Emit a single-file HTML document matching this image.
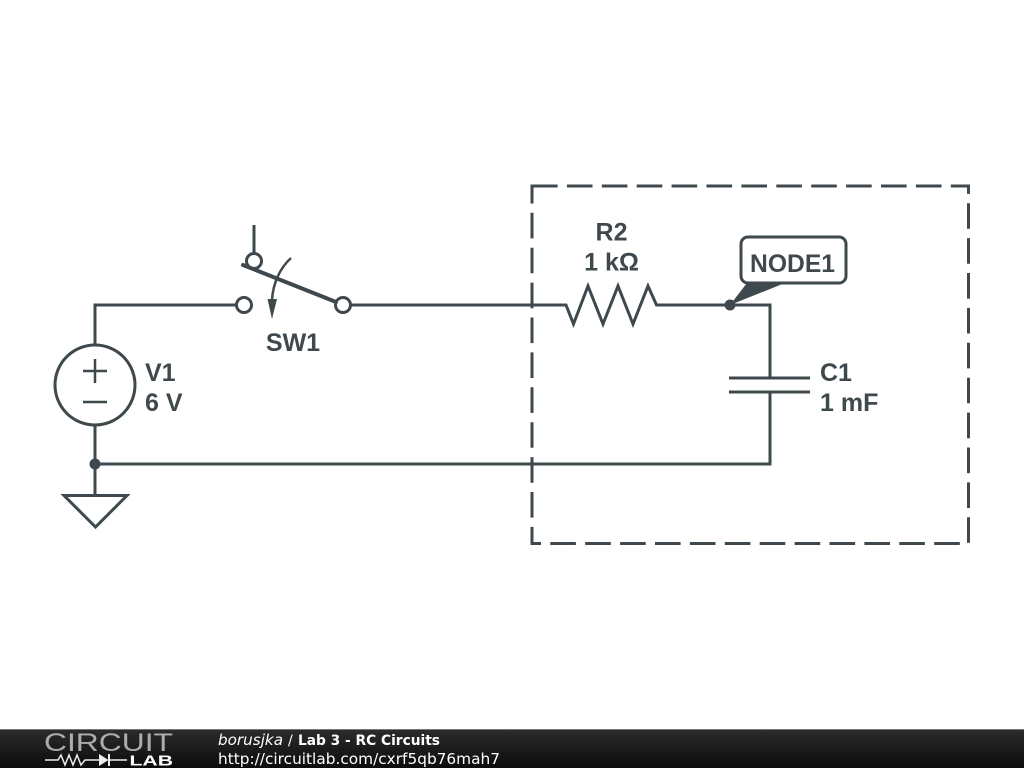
<!DOCTYPE html>
<html><head><meta charset="utf-8"><style>
html,body{margin:0;padding:0;background:#fff;width:1024px;height:768px;overflow:hidden}
svg{display:block}
</style></head><body>
<svg width="1024" height="768" viewBox="0 0 1024 768" xmlns="http://www.w3.org/2000/svg">
<defs><linearGradient id="g" x1="0" y1="0" x2="0" y2="1"><stop offset="0" stop-color="#2c2c2c"/><stop offset="1" stop-color="#0c0c0c"/></linearGradient></defs>
<rect width="1024" height="768" fill="#fff"/>
<g fill="none" stroke="#3f484d" stroke-width="3" stroke-linejoin="miter">
<rect x="532" y="186" width="436.500" height="357.500" stroke-dasharray="25.600 9.300"/>
<path d="M95 345V305H236M351 305H566L573.500 324L588 286L603 324L618 286L633 324L648 286L656.500 305H770V378M770 392V464H95M95 425V495"/>
<path d="M729 378H810M729 392H810" />
<circle cx="95" cy="385" r="40"/>
<path d="M83 371H107M95 359V383M83 402H107" stroke-width="2.500"/>
<path d="M64 495.500H127L95.500 527Z"/>
<path d="M254 225V253"/>
<circle cx="254" cy="261" r="7.500"/>
<circle cx="244" cy="305" r="7.500"/>
<circle cx="343" cy="305" r="7.500"/>
<path d="M243 265L336 302" stroke-width="4" stroke-linecap="round"/>
<path d="M291 258C280 268 273 283 272 300" stroke-width="2.500"/>
<rect x="741" y="237" width="105" height="46" rx="7" fill="#fff"/>
</g>
<g fill="#3f484d">
<path d="M267.500 299L277 299L272 319Z"/>
<circle cx="95" cy="464" r="5.500"/>
<circle cx="730" cy="305" r="5.500"/>
<path d="M730 305L747 283H785Z"/>
</g>
<g fill="#3f484d" font-family="'Liberation Sans',sans-serif" font-weight="bold" font-size="25">
<text x="293" y="351" text-anchor="middle">SW1</text>
<text x="145" y="381">V1</text>
<text x="145" y="411">6 V</text>
<text x="611.500" y="240.500" text-anchor="middle">R2</text>
<text x="611.500" y="270.500" text-anchor="middle">1 kΩ</text>
<text x="750" y="272" textLength="85" lengthAdjust="spacingAndGlyphs">NODE1</text>
<text x="820" y="381">C1</text>
<text x="820" y="411">1 mF</text>
</g>
<rect y="729" width="1024" height="39" fill="url(#g)"/>
<rect y="729" width="1024" height="1" fill="#777"/>
<text x="44" y="751" fill="#e8e8e8" font-family="'Liberation Sans',sans-serif" font-size="25" textLength="129" lengthAdjust="spacingAndGlyphs" opacity=".7">CIRCUIT</text>
<g fill="none" stroke="#eee" stroke-width="1.500">
<path d="M45 760H58L61 755L65 765L69 755L73 765L77 755L81 765L85 760H99M109 760H127"/>
<path d="M109 754V766" stroke-width="2"/>
</g>
<path d="M99 754L108.500 760L99 766Z" fill="#eee"/>
<text x="129.500" y="765.500" fill="#fff" font-family="'Liberation Sans',sans-serif" font-weight="bold" font-size="14.500" textLength="43.500" lengthAdjust="spacingAndGlyphs">LAB</text>
<g font-family="'DejaVu Sans',sans-serif" fill="#fff">
<text x="218" y="745" font-size="15" font-style="italic" textLength="65" lengthAdjust="spacingAndGlyphs">borusjka</text>
<text x="288" y="745" font-size="14">/</text>
<text x="298" y="745" font-size="14" font-weight="bold" textLength="142" lengthAdjust="spacingAndGlyphs">Lab 3 - RC Circuits</text>
<text x="218" y="764" font-size="15.500" textLength="282" lengthAdjust="spacingAndGlyphs">http://circuitlab.com/cxrf5qb76mah7</text>
</g>
</svg>
</body></html>
